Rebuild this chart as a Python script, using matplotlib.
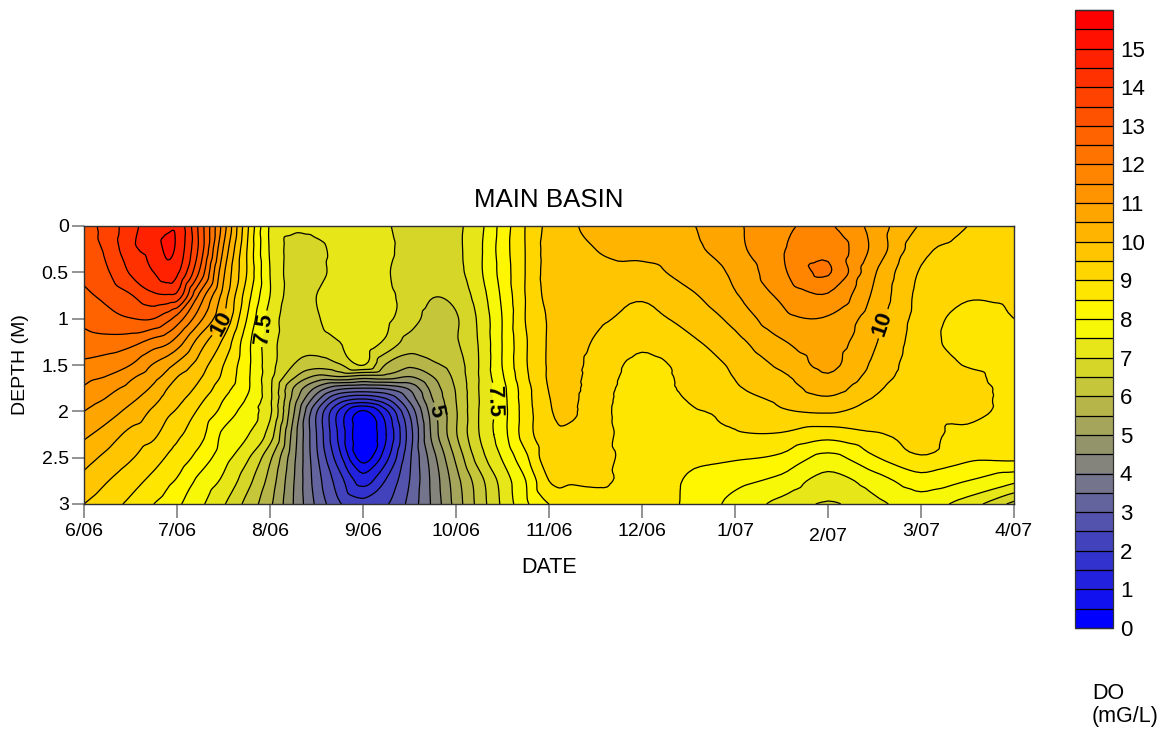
import numpy as np
import matplotlib
matplotlib.use("Agg")
import matplotlib.pyplot as plt
import matplotlib.tri as mtri
from matplotlib.colors import LinearSegmentedColormap

plt.rcParams["font.family"] = ["Liberation Sans", "DejaVu Sans"]

# months since 6/06 for the tick labels
date_labels = ["6/06", "7/06", "8/06", "9/06", "10/06", "11/06", "12/06", "1/07", "2/07", "3/07", "4/07"]
depth_ticks = [0, 0.5, 1, 1.5, 2, 2.5, 3]
depth_labels = ["0", "0.5", "1", "1.5", "2", "2.5", "3"]

depths = [0, 0.25, 0.5, 0.75, 1, 1.25, 1.5, 1.625, 1.75, 1.875, 2, 2.25, 2.5, 2.75, 3]
months = [0, 0.25, 0.5, 0.75, 0.9, 1, 1.25, 1.5, 1.75, 2, 2.25, 2.5, 2.75, 3, 3.25, 3.5, 3.75,
          4, 4.25, 4.5, 4.75, 5, 5.25, 5.5, 6, 6.5, 7, 7.5, 8, 8.5, 9, 9.5, 10]

# DO, one list per date, top to bottom
do_m000 = [13.35, 13.3, 13.15, 12.88, 12.62, 12.3, 11.88, 11.66, 11.45, 11.2, 11.0, 10.6, 10.2, 9.85, 9.5]
do_m025 = [13.66, 13.6, 13.45, 13.15, 12.82, 12.31, 11.74, 11.48, 11.15, 10.95, 10.72, 10.28, 9.87, 9.52, 9.21]
do_m050 = [14.33, 14.37, 14.05, 13.46, 12.98, 12.19, 11.5, 11.1, 10.85, 10.6, 10.35, 9.85, 9.55, 9.2, 8.89]
do_m075 = [14.75, 14.7, 14.5, 13.9, 13.0, 11.81, 10.95, 10.67, 10.4, 10.15, 9.9, 9.6, 9.2, 8.85, 8.5]
do_m090 = [14.92, 15.1, 14.8, 13.95, 12.65, 11.6, 10.65, 10.32, 10.0, 9.8, 9.6, 9.25, 8.95, 8.6, 8.3]
do_m100 = [14.9, 14.9, 14.6, 13.85, 12.3, 11.29, 10.4, 10.02, 9.85, 9.65, 9.45, 9.1, 8.8, 8.45, 8.1]
do_m125 = [13.3, 13.3, 12.88, 11.83, 11.12, 10.25, 9.75, 9.55, 9.35, 9.1, 8.9, 8.65, 8.3, 7.85, 7.6]
do_m150 = [11.25, 10.95, 10.6, 10.3, 10.0, 9.4, 9.0, 8.9, 8.7, 8.5, 8.35, 7.9, 7.7, 7.4, 7.05]
do_m175 = [9.15, 9.02, 9.0, 8.75, 8.5, 8.2, 8.15, 8.12, 8.1, 7.95, 7.75, 7.55, 7.1, 6.7, 6.35]
do_m200 = [7.45, 7.45, 7.5, 7.5, 7.3, 7.2, 7.2, 7.15, 7.1, 7.1, 7.1, 6.75, 6.1, 5.8, 5.6]
do_m225 = [7.1, 6.85, 6.8, 6.8, 6.75, 6.75, 6.5, 6.1, 5.5, 5.3, 5.1, 4.8, 4.65, 4.55, 4.5]
do_m250 = [7.15, 6.9, 6.85, 7.0, 6.95, 6.75, 6.2, 5.4, 4.4, 3.65, 3.05, 3.0, 3.1, 3.25, 3.4]
do_m275 = [7.25, 7.15, 7.2, 7.3, 7.3, 7.0, 6.45, 5.5, 3.65, 2.3, 1.4, 1.35, 1.65, 2.2, 2.55]
do_m300 = [7.3, 7.35, 7.35, 7.4, 7.4, 7.3, 7.02, 5.3, 3.5, 1.9, 0.45, 0.1, 0.3, 1.3, 2.2]
do_m325 = [7.05, 7.1, 7.05, 7.1, 7.1, 6.9, 5.95, 5.3, 3.6, 2.4, 1.4, 1.0, 1.35, 2.05, 2.45]
do_m350 = [6.85, 6.85, 6.8, 6.85, 6.75, 6.3, 5.6, 5.0, 4.1, 3.6, 3.1, 2.75, 2.9, 3.0, 3.15]
do_m375 = [6.85, 6.85, 6.8, 6.52, 6.3, 6.25, 5.9, 5.5, 5.2, 5.0, 4.8, 4.65, 4.3, 4.15, 4.1]
do_m400 = [6.9, 6.9, 6.85, 6.65, 6.45, 6.45, 6.25, 6.15, 6.05, 6.0, 5.95, 5.95, 5.6, 5.3, 5.2]
do_m425 = [7.35, 7.4, 7.4, 7.25, 7.1, 7.05, 7.02, 7.02, 7.02, 7.0, 7.02, 7.0, 6.75, 6.3, 6.2]
do_m450 = [8.2, 8.25, 8.2, 8.1, 8.02, 8.02, 8.02, 7.95, 7.85, 7.82, 7.8, 7.8, 7.55, 7.2, 7.1]
do_m475 = [9.02, 9.02, 9.02, 9.02, 9.02, 8.95, 8.95, 8.9, 8.8, 8.78, 8.75, 8.75, 8.4, 8.0, 7.9]
do_m500 = [9.65, 9.7, 9.7, 9.65, 9.55, 9.55, 9.55, 9.55, 9.52, 9.48, 9.45, 9.35, 9.3, 9.0, 8.5]
do_m525 = [9.95, 9.9, 9.85, 9.8, 9.75, 9.7, 9.65, 9.62, 9.6, 9.57, 9.55, 9.4, 9.25, 9.05, 8.7]
do_m550 = [10.1, 10.0, 9.9, 9.8, 9.6, 9.45, 9.3, 9.28, 9.25, 9.22, 9.2, 9.2, 9.15, 9.05, 8.85]
do_m600 = [10.3, 10.15, 9.85, 9.55, 9.4, 9.1, 8.9, 8.85, 8.8, 8.77, 8.75, 8.75, 8.8, 8.85, 8.85]
do_m650 = [10.45, 10.35, 10.2, 9.9, 9.65, 9.4, 9.15, 9.12, 9.1, 9.02, 8.95, 8.75, 8.6, 8.45, 8.4]
do_m700 = [10.9, 10.85, 10.6, 10.45, 10.15, 9.85, 9.6, 9.52, 9.45, 9.28, 9.1, 8.95, 8.55, 8.15, 7.85]
do_m750 = [11.4, 11.45, 11.4, 11.1, 10.85, 10.45, 10.1, 9.9, 9.75, 9.6, 9.45, 8.95, 8.4, 7.85, 7.35]
do_m800 = [11.55, 11.85, 12.05, 11.45, 10.95, 10.75, 10.6, 10.45, 10.2, 9.9, 9.55, 8.7, 7.85, 7.3, 6.95]
do_m850 = [10.8, 10.85, 10.55, 10.4, 10.2, 10.05, 9.9, 9.78, 9.6, 9.45, 9.3, 8.95, 8.45, 7.75, 7.35]
do_m900 = [9.95, 9.65, 9.45, 9.35, 9.3, 9.25, 9.2, 9.2, 9.2, 9.18, 9.15, 9.1, 8.95, 8.25, 7.75]
do_m950 = [9.5, 9.35, 9.3, 9.05, 8.85, 8.8, 8.98, 9.1, 9.2, 9.2, 9.2, 8.85, 8.6, 8.0, 7.25]
do_m1000 = [9.3, 9.25, 9.2, 9.1, 9.0, 8.9, 8.85, 8.82, 8.8, 8.78, 8.75, 8.65, 8.6, 7.6, 6.35]

do_grid = np.column_stack([
    do_m000, do_m025, do_m050, do_m075, do_m090, do_m100, do_m125, do_m150, do_m175, do_m200, do_m225,
    do_m250, do_m275, do_m300, do_m325, do_m350, do_m375, do_m400, do_m425, do_m450, do_m475, do_m500,
    do_m525, do_m550, do_m600, do_m650, do_m700, do_m750, do_m800, do_m850, do_m900, do_m950, do_m1000,
])

W, H = 1165, 732
levels = np.arange(0, 16.5, 0.5)
label_levels = [5, 7.5, 10]
plain_levels = [v for v in levels if v not in label_levels]
do_cmap = LinearSegmentedColormap.from_list(
    "do", [(0, "#0000ff"), (0.25, "#808080"), (0.5, "#ffff00"), (1, "#ff0000")], N=32)


def px_axes(x0, y0, x1, y1):
    return fig.add_axes([x0 / W, 1 - y1 / H, (x1 - x0) / W, (y1 - y0) / H])


fig = plt.figure(figsize=(W / 100, H / 100), dpi=100)
ax = px_axes(84, 226, 1014, 504)

# smooth contouring of the read values with the library's refiner
mx, my = np.meshgrid(months, depths)
triang = mtri.Triangulation(mx.ravel(), my.ravel())
interp = mtri.CubicTriInterpolator(triang, do_grid.ravel(), kind="geom")
tri_fine, do_fine = mtri.UniformTriRefiner(triang).refine_field(do_grid.ravel(), triinterpolator=interp, subdiv=3)

filled = ax.tricontourf(tri_fine, do_fine, levels=levels, cmap=do_cmap, extend="both")
ax.tricontour(tri_fine, do_fine, levels=plain_levels, colors="black", linewidths=0.9)
# labelled levels go in their own set, clabel(manual=) needs every level labelled
label_lines = ax.tricontour(tri_fine, do_fine, levels=label_levels, colors="black", linewidths=0.9)

ax.set_xlim(0, 10)
ax.set_ylim(3, 0)

labels = ax.clabel(label_lines, inline=True, inline_spacing=3, fontsize=16,
                   fmt=lambda v: f"{v:g}",
                   manual=[(1.48, 1.05), (1.94, 1.11), (3.83, 1.99), (4.38, 1.89), (8.58, 1.05)])
for t in labels:
    t.set_fontweight("bold")

ax.set_xticks(range(11))
ax.set_xticklabels(date_labels)
ax.set_yticks(depth_ticks)
ax.set_yticklabels(depth_labels)
ax.tick_params(axis="x", length=10, width=1.2, color="#808080", labelsize=14, pad=4)
ax.tick_params(axis="y", length=9, width=1.2, color="#808080", labelsize=14, pad=2)
ax.get_xticklabels()[8].set_y(-0.018)
for s in ax.spines.values():
    s.set_linewidth(1)
    s.set_color("#303030")

ax.set_xlabel("DATE", fontsize=15.5, labelpad=8)
ax.set_ylabel("DEPTH (M)", fontsize=14, labelpad=9)
ax.set_title("MAIN BASIN", fontsize=18.6, pad=14)

cax = px_axes(1075, 10, 1113, 628)
cbar = fig.colorbar(filled, cax=cax, drawedges=True, ticks=range(16), extendfrac=0)
cbar.ax.tick_params(length=0, labelsize=16, pad=5)
cbar.dividers.set_linewidth(0.9)
cbar.dividers.set_color("black")
cbar.outline.set_linewidth(0.9)
cbar.outline.set_edgecolor("#303030")

fig.text(1092 / W, 1 - 727 / H, "DO\n(mG/L)", fontsize=15.5, ha="left", va="bottom", linespacing=1.1)

fig.savefig("out.png", dpi=100)
